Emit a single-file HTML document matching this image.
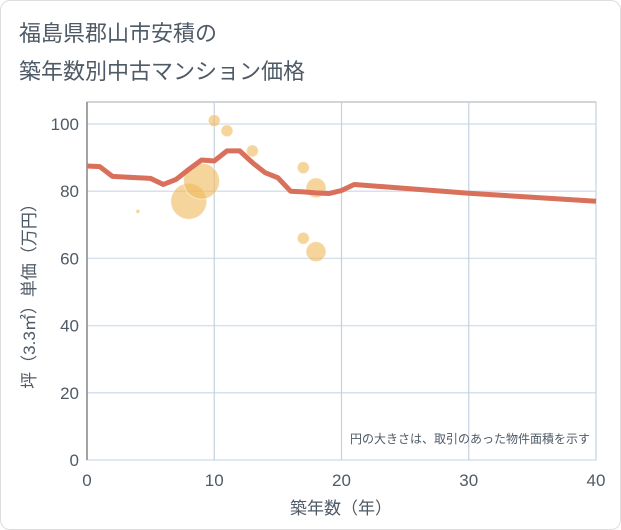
<!DOCTYPE html>
<html><head><meta charset="utf-8"><style>
body{margin:0;background:#fff;font-family:"Liberation Sans","Noto Sans CJK JP",sans-serif;}
#wrap{position:relative;width:619px;height:528px;border:1px solid #ddd;border-radius:10px;background:#fff;overflow:hidden}
.t{position:absolute;left:18px;color:#4e5a66;font-size:22px}
</style></head><body>
<div id="wrap">
<div class="t" style="top:15px">福島県郡山市安積の</div>
<div class="t" style="top:53px">築年数別中古マンション価格</div>
<svg id="svg" width="621" height="530" style="position:absolute;left:-1px;top:-1px"></svg>
</div>
<script>
const xTicks=[0,10,20,30,40];
const yTicks=[0,20,40,60,80,100];
const lineYears=[0,1,2,4,5,6,7,8,9,10,11,12,13,14,15,16,17,18,19,20,21,30,40];
const linePrices=[87.5,87.3,84.4,84,83.8,82,83.5,86.5,89.3,89,92,92,88.5,85.5,84,80,79.8,79.5,79.3,80.2,82,79.4,77];
const bubbleYears=[10,11,13,4,8,9,17,18,17,18];
const bubblePrices=[101,98,92,74,77,83,87,81,66,62];
const bubbleSizes=[6,6,6,2,18,18,6,10,6,10];
const NS="http://www.w3.org/2000/svg",svg=document.getElementById('svg');
const X0=87,X1=596,Y0=460,Y1=124;
const TC='#4e5a66';
const xs=v=>X0+(X1-X0)*v/40, ys=v=>Y0-(Y0-Y1)*v/100;
function mk(t,a,p){const e=document.createElementNS(NS,t);for(const k in a)e.setAttribute(k,a[k]);(p||svg).appendChild(e);return e;}
const bg=mk('rect',{x:X0,y:102,width:X1-X0,height:Y0-102,fill:'#fff',stroke:'#aaa'});


yTicks.forEach(v=>{
 const l=mk('line',{x1:X0,x2:X1,y1:ys(v),y2:ys(v),stroke:'#d5e2ee','stroke-width':1.5});
 
 
 const t=mk('text',{x:X0-8,y:ys(v)+6,'text-anchor':'end','font-size':17,fill:TC});t.textContent=v;
 
 
});
xTicks.forEach(v=>{
 const l=mk('line',{x1:xs(v),x2:xs(v),y1:102,y2:Y0,stroke:'#c5d2de','stroke-width':1.2});
 
 
 const t=mk('text',{x:xs(v),y:486,'text-anchor':'middle','font-size':17,fill:TC});t.textContent=v;
 
 
});
const ax=mk('line',{x1:X0,x2:X0,y1:102,y2:Y0,stroke:'#888','stroke-width':1.5});


bubbleYears.forEach((yr,i)=>{
 const c=mk('circle',{cx:xs(yr),cy:ys(bubblePrices[i]),r:bubbleSizes[i],fill:'rgba(240,185,90,0.6)',stroke:'rgba(255,255,255,0.5)'});
 
 
});
const pl=mk('polyline',{points:lineYears.map((y,i)=>xs(y)+','+ys(linePrices[i])).join(' '),fill:'none',stroke:'#d9705b','stroke-width':5,'stroke-linejoin':'round'});


const note=mk('text',{x:590,y:443,'text-anchor':'end','font-size':12,fill:TC});note.textContent='円の大きさは、取引のあった物件面積を示す';


const xt=mk('text',{x:341,y:514,'text-anchor':'middle','font-size':17,fill:TC});xt.textContent='築年数（年）';


const yt=mk('text',{x:0,y:0,'text-anchor':'middle','font-size':17,fill:TC,transform:'translate(35,292) rotate(-90)'});yt.textContent='坪（3.3㎡）単価（万円）';


</script>
</body></html>
